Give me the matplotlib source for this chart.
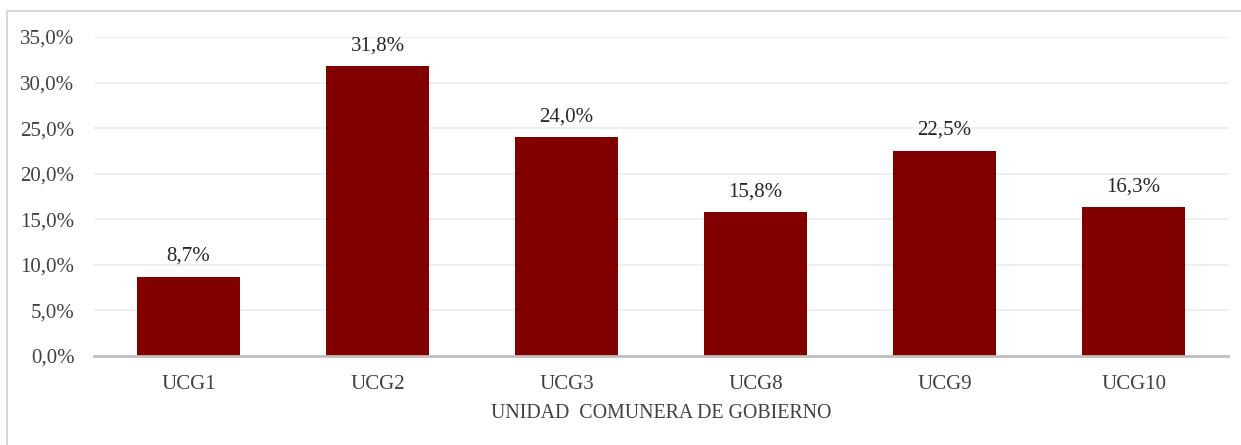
import matplotlib
matplotlib.use("Agg")
import matplotlib.pyplot as plt
from matplotlib.patches import Rectangle

categories = ["UCG1", "UCG2", "UCG3", "UCG8", "UCG9", "UCG10"]
values = [8.7, 31.8, 24.0, 15.8, 22.5, 16.3]
yticks = [0, 5, 10, 15, 20, 25, 30, 35]
xlabel = "UNIDAD  COMUNERA DE GOBIERNO"

plt.rcParams['font.family'] = ['Liberation Serif', 'DejaVu Serif']

fig = plt.figure(figsize=(12.41, 4.45), dpi=100)
fig.patches.append(Rectangle((7/1241, -0.1), (1241-7)/1241 + 0.1, 1 - 11/445 + 0.1,
                             transform=fig.transFigure, fill=False,
                             edgecolor='#d9d9d9', linewidth=1.5, zorder=0))
ax = fig.add_axes([94/1241, 1 - 356/445, (1228 - 94)/1241, (356 - 37)/445])

x = range(len(categories))
bars = ax.bar(x, values, width=0.55, color='#800000', zorder=3)
for xi, v in zip(x, values):
    ax.text(xi, v + 1.2, f"{v:.1f}%".replace('.', ','), ha='center', va='bottom',
            fontsize=15, color='#262626')

ax.set_xlim(-0.5, len(categories) - 0.5)
ax.set_ylim(0, 35)
ax.set_yticks(yticks)
ax.set_yticklabels([f"{t:.1f}%".replace('.', ',') for t in yticks])
ax.set_xticks(list(x))
ax.set_xticklabels(categories)
ax.tick_params(axis='both', length=0, labelsize=15, labelcolor='#404040')
ax.tick_params(axis='y', pad=14)
ax.tick_params(axis='x', pad=14)
ax.grid(axis='y', color='#ebebeb', linewidth=1.2, zorder=0)
for s in ['top', 'right', 'left']:
    ax.spines[s].set_visible(False)
ax.spines['bottom'].set_color('#bfbfbf')
ax.spines['bottom'].set_linewidth(2)
ax.spines['bottom'].set_zorder(4)
ax.set_xlabel(xlabel, fontsize=14.3, color='#404040', labelpad=7)

fig.savefig("out.png", dpi=100)
